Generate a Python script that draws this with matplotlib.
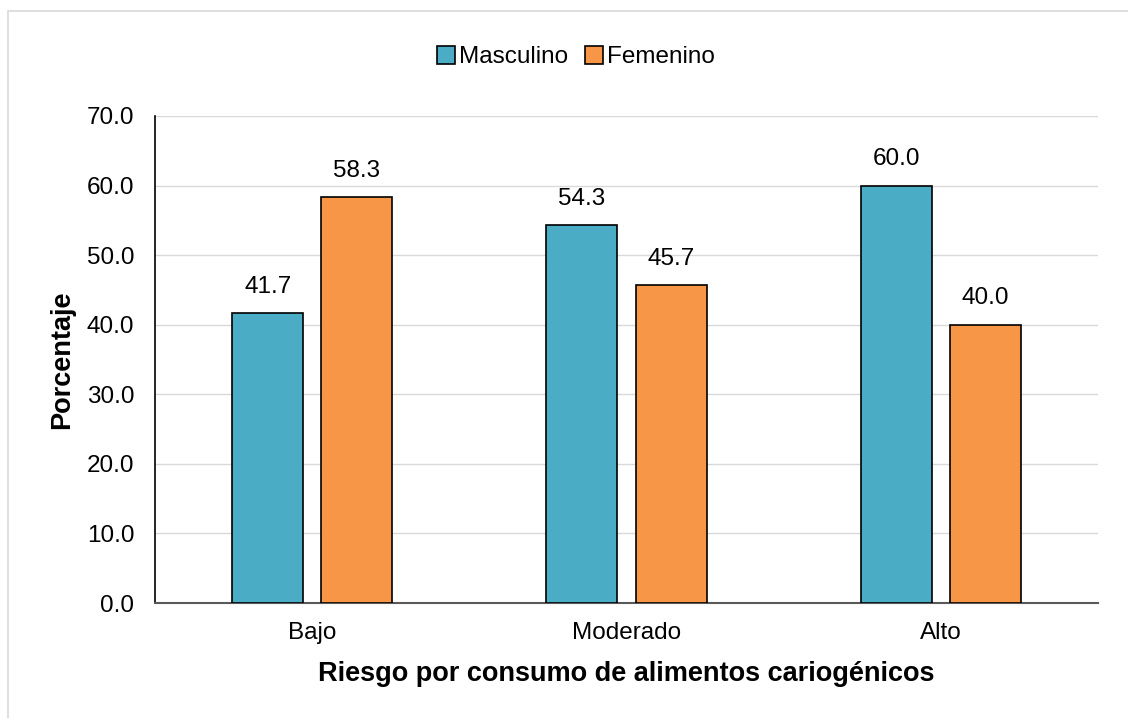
import numpy as np
import matplotlib.pyplot as plt
from matplotlib.patches import Rectangle

plt.rcParams['font.family'] = ['Liberation Sans', 'DejaVu Sans']

# datos
categorias = ['Bajo', 'Moderado', 'Alto']
masculino = [41.7, 54.3, 60.0]
femenino = [58.3, 45.7, 40.0]
yticks = [0, 10, 20, 30, 40, 50, 60, 70]

fig = plt.figure(figsize=(11.28, 7.18), dpi=100)
ax = fig.add_axes([155 / 1128, 1 - 603 / 718, (1098 - 155) / 1128, (603 - 116) / 718])

# borde del gráfico
fig.patches.append(Rectangle((8 / 1128, -0.1), 1.2, 1 - 11 / 718 + 0.1, transform=fig.transFigure,
                             fill=False, edgecolor='#d9d9d9', linewidth=1.2))

x = np.arange(len(categorias))
ancho = 0.226
desp = 0.1417
b1 = ax.bar(x - desp, masculino, ancho, color='#4bacc6', edgecolor='black', linewidth=1.2,
            label='Masculino', zorder=3)
b2 = ax.bar(x + desp, femenino, ancho, color='#f79646', edgecolor='black', linewidth=1.2,
            label='Femenino', zorder=3)

for barras in (b1, b2):
    ax.bar_label(barras, fmt='%.1f', padding=11, fontsize=17.5)

ax.set_xlim(-0.5, 2.5)
ax.set_ylim(0, 70)
ax.set_yticks(yticks)
ax.set_yticklabels([f'{v:.1f}' for v in yticks])
ax.set_xticks(x)
ax.set_xticklabels(categorias)
ax.tick_params(axis='both', labelsize=17.5, length=0)
ax.tick_params(axis='x', pad=14)
ax.tick_params(axis='y', pad=15)
ax.yaxis.grid(True, color='#d9d9d9', linewidth=1)
ax.set_axisbelow(True)

for s in ['top', 'right']:
    ax.spines[s].set_visible(False)
ax.spines['left'].set_color('black')
ax.spines['left'].set_linewidth(1.2)
ax.spines['bottom'].set_color('#595959')
ax.spines['bottom'].set_linewidth(1.5)

ax.set_ylabel('Porcentaje', fontsize=19.5, fontweight='bold', labelpad=8)
ax.set_xlabel('Riesgo por consumo de alimentos cariogénicos', fontsize=19.5, fontweight='bold',
              labelpad=12)

fig.legend(loc='center', bbox_to_anchor=(576 / 1128, 1 - 57 / 718), ncol=2, frameon=False,
           fontsize=17.5, handlelength=0.75, handleheight=0.75, handletextpad=0.15,
           columnspacing=0.7)

fig.savefig('out.png', dpi=100)
